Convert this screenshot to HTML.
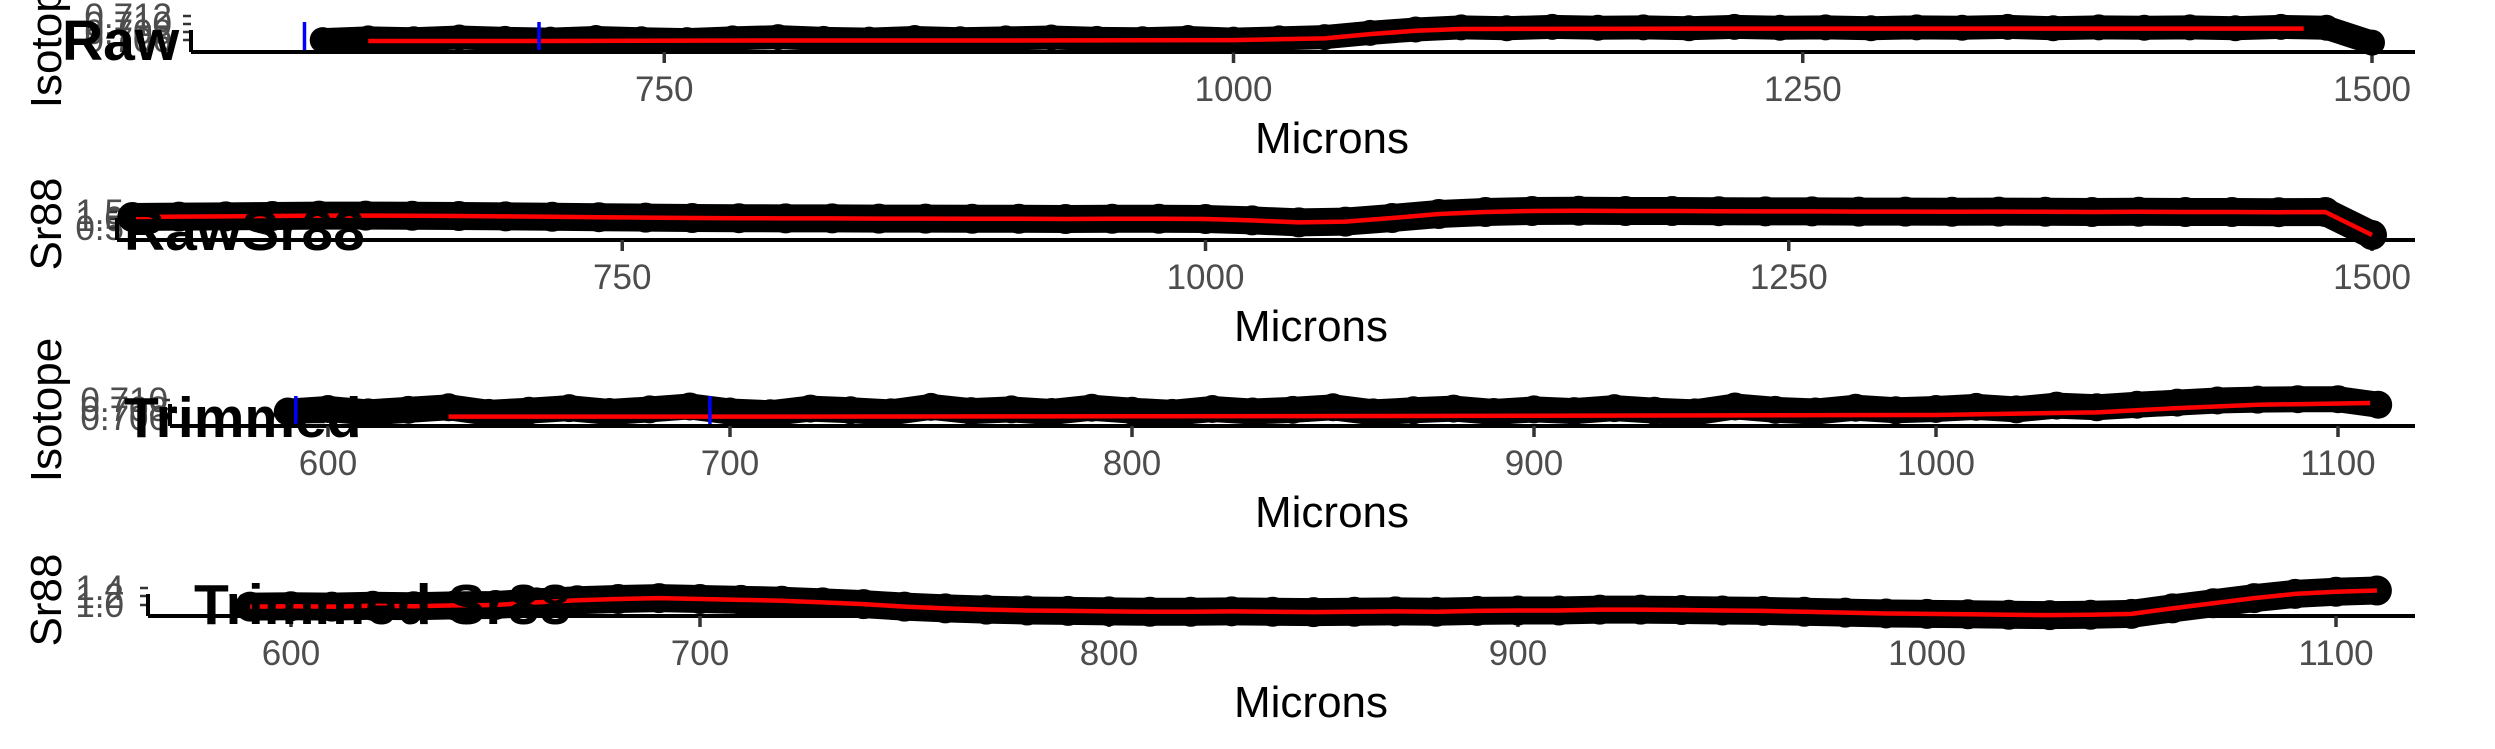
<!DOCTYPE html>
<html><head><meta charset="utf-8">
<style>
html,body{margin:0;padding:0;background:#fff;}
svg{display:block;font-family:"Liberation Sans",sans-serif;}
.tk{fill:#4d4d4d;font-size:35px;}
.at{fill:#000;font-size:44px;}
.tt{fill:#000;font-size:57px;font-weight:bold;}
</style></head>
<body>
<svg id="c" width="2495" height="749" viewBox="0 0 2495 749"></svg>
<script>
// Panel 1: Raw isotope
const rawX = [600,620,640,660,680,700,720,740,760,780,800,820,840,860,880,900,920,940,960,980,1000,1020,1040,1060,1080,1100,1120,1140,1160,1180,1200,1220,1240,1260,1280,1300,1320,1340,1360,1380,1400,1420,1440,1460,1480,1500];
const rawY = [0.7068,0.7072,0.7070,0.7074,0.7071,0.7069,0.7073,0.7070,0.7068,0.7072,0.7075,0.7071,0.7069,0.7073,0.7070,0.7072,0.7074,0.7071,0.7070,0.7073,0.7069,0.7072,0.7075,0.7085,0.7093,0.7098,0.7096,0.7099,0.7097,0.7098,0.7096,0.7099,0.7097,0.7098,0.7096,0.7098,0.7097,0.7099,0.7096,0.7098,0.7097,0.7098,0.7096,0.7099,0.7097,0.7062];
const rawFitX = [620,700,800,900,1000,1040,1060,1080,1100,1200,1300,1400,1470];
const rawFitY = [0.7066,0.7066,0.7067,0.7067,0.7068,0.7072,0.7082,0.7090,0.7094,0.7095,0.7095,0.7095,0.7095];
const rawCuts = [592,695];
const rawTicks = [750,1000,1250,1500];
// Panel 2: Raw Sr88
const rsX = [540,560,580,600,620,640,660,680,700,720,740,760,780,800,820,840,860,880,900,920,940,960,980,1000,1020,1040,1060,1080,1100,1120,1140,1160,1180,1200,1220,1240,1260,1280,1300,1320,1340,1360,1380,1400,1420,1440,1460,1480,1500];
const rsY = [1.15,1.17,1.18,1.20,1.22,1.22,1.21,1.20,1.18,1.16,1.14,1.12,1.10,1.09,1.08,1.08,1.07,1.07,1.06,1.06,1.05,1.06,1.06,1.05,0.98,0.88,0.92,1.10,1.30,1.40,1.45,1.46,1.45,1.45,1.44,1.43,1.43,1.42,1.42,1.41,1.42,1.41,1.40,1.41,1.40,1.40,1.39,1.40,0.25];
const rsTicks = [750,1000,1250,1500];
// Panel 3: Trimmed isotope
const trY = [0.7074,0.7080,0.7072,0.7078,0.7084,0.7071,0.7076,0.7082,0.7073,0.7079,0.7086,0.7074,0.7070,0.7081,0.7077,0.7072,0.7085,0.7075,0.7079,0.7073,0.7083,0.7076,0.7071,0.7080,0.7074,0.7078,0.7084,0.7072,0.7077,0.7081,0.7073,0.7079,0.7075,0.7082,0.7076,0.7072,0.7086,0.7078,0.7074,0.7083,0.7077,0.7080,0.7085,0.7079,0.7088,0.7084,0.7090,0.7095,0.7100,0.7102,0.7103,0.7103,0.7090];
const trFitX = [630,700,800,900,1000,1040,1060,1080,1108];
const trFitY = [0.7062,0.7062,0.7063,0.7064,0.7066,0.7072,0.7082,0.7090,0.7094];
const trCuts = [592,695];
const trTicks = [600,700,800,900,1000,1100];
// Panel 4: Trimmed Sr88
const tsY = [1.12,1.13,1.12,1.14,1.13,1.15,1.16,1.22,1.27,1.30,1.32,1.30,1.28,1.26,1.22,1.18,1.12,1.08,1.05,1.03,1.02,1.01,1.0,1.0,1.01,1.0,0.99,1.0,1.01,1.0,1.02,1.03,1.03,1.05,1.05,1.04,1.03,1.02,1.0,0.98,0.96,0.95,0.94,0.93,0.92,0.93,0.95,1.08,1.20,1.32,1.42,1.47,1.50];
const tsTicks = [600,700,800,900,1000,1100];

const trX = []; for (let v = 590; v <= 1110; v += 10) trX.push(v);

const svg = document.getElementById('c');
const NS = 'http://www.w3.org/2000/svg';
function mk(tag, attrs, parent) {
  const e = document.createElementNS(NS, tag);
  for (const k in attrs) e.setAttribute(k, attrs[k]);
  (parent || svg).appendChild(e);
  return e;
}
function txt(s, attrs, parent) { const t = mk('text', attrs, parent); t.textContent = s; return t; }

function panel(o) {
  const g = mk('g', {});
  
  
  const xs = v => o.x0 + (v - o.v0) * o.k;
  const ys = v => o.ay - (v - o.y0) * o.ky;
  o.yLabels.forEach((s, i) => {
    const t = txt(s, {class: 'tk', x: o.ylx, y: o.yly[i], 'text-anchor': 'end'}, g);
    
    
    mk('line', {x1: o.axL - 8, x2: o.axL, y1: o.yly[i] - 12, y2: o.yly[i] - 12, stroke: '#333', 'stroke-width': 2.5}, g);
  });
  const ax = mk('line', {x1: o.axL, x2: 2415, y1: o.ay, y2: o.ay, stroke: '#000', 'stroke-width': 4}, g);
  
  
  mk('line', {x1: o.axL, x2: o.axL, y1: o.ay - 22, y2: o.ay, stroke: '#000', 'stroke-width': 4}, g);
  o.ticks.forEach(v => {
    mk('line', {x1: xs(v), x2: xs(v), y1: o.ay, y2: o.ay + 11, stroke: '#333', 'stroke-width': 3.5}, g);
    const t = txt(String(v), {class: 'tk', x: xs(v), y: o.ay + 49, 'text-anchor': 'middle'}, g);
    
    
  });
  const pts = o.px.map((v, i) => xs(v) + ',' + ys(o.py[i])).join(' ');
  const band = mk('polyline', {points: pts, fill: 'none', stroke: '#000', 'stroke-width': o.bw || 26, 'stroke-linejoin': 'round'}, g);
  
  
  o.px.forEach((v, i) => {
    const c = mk('circle', {cx: xs(v), cy: ys(o.py[i]), r: (o.bw || 26) / 2 + 1, fill: '#000'}, g);
    
    
  });
  const fx = o.fx || o.px, fy = o.fy || o.py;
  const fit = mk('polyline', {points: fx.map((v, i) => xs(v) + ',' + ys(fy[i])).join(' '), fill: 'none', stroke: '#ff0000', 'stroke-width': 4.5, 'stroke-linejoin': 'round'}, g);
  
  
  (o.cuts || []).forEach(v => {
    const l = mk('line', {x1: xs(v), x2: xs(v), y1: o.ay - 30, y2: o.ay - 2, stroke: '#0000ff', 'stroke-width': 3.5}, g);
    
    
  });
  const tt = txt(o.title, {class: 'tt', x: o.tx, y: o.ty}, g);
  
  
  const xt = txt('Microns', {class: 'at', x: o.mx, y: o.ay + 101, 'text-anchor': 'middle'}, g);
  
  
  const yt = txt(o.ylab, {class: 'at', x: 0, y: 0, 'text-anchor': 'middle', transform: 'translate(61,' + (o.ay - 16) + ') rotate(-90)'}, g);
  
  
}

panel({name: 'raw-isotope-panel', title: 'Raw', tx: 62, ty: 60, ay: 52, axL: 191, v0: 1500, x0: 2372, k: 2.277, y0: 0.704, ky: 34 / 0.008,
  px: rawX, py: rawY, fx: rawFitX, fy: rawFitY, cuts: rawCuts, ticks: rawTicks, mx: 1332, ylab: 'Isotope', bw: 24,
  yLabels: ['0.712', '0.710', '0.708', '0.706'], ylx: 172, yly: [28, 36, 44, 52]});
panel({name: 'raw-sr88-panel', title: 'RawSr88', tx: 124, ty: 250, ay: 240, axL: 117, v0: 1500, x0: 2372, k: 2.333, y0: 0, ky: 20,
  px: rsX, py: rsY, fx: rsX, fy: rsY, ticks: rsTicks, mx: 1311, ylab: 'Sr88', bw: 28,
  yLabels: ['1.5', '1.0', '0.5'], ylx: 124, yly: [224, 231, 240]});
panel({name: 'trimmed-isotope-panel', title: 'Trimmed', tx: 124, ty: 437, ay: 426, axL: 170, v0: 1000, x0: 1936, k: 4.02, y0: 0.704, ky: 34 / 0.008,
  px: trX, py: trY, fx: trFitX, fy: trFitY, cuts: trCuts, ticks: trTicks, mx: 1332, ylab: 'Isotope', bw: 26,
  yLabels: ['0.710', '0.708', '0.706'], ylx: 168, yly: [412, 421, 430]});
panel({name: 'trimmed-sr88-panel', title: 'Trimmed Sr88', tx: 194, ty: 624, ay: 616, axL: 148, v0: 600, x0: 291, k: 4.09, y0: 0.9, ky: 42.5,
  px: trX, py: tsY, fx: trX, fy: tsY, ticks: tsTicks, mx: 1311, ylab: 'Sr88', bw: 28,
  yLabels: ['1.4', '1.2', '1.0'], ylx: 124, yly: [600, 608, 617]});
</script>
</body></html>
